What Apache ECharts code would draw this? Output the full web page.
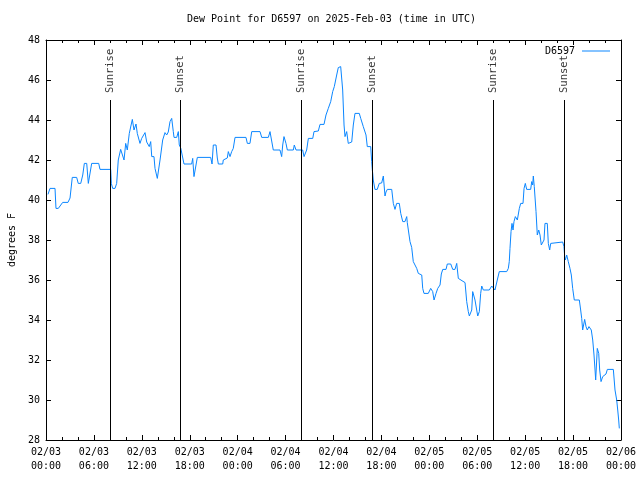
<!DOCTYPE html>
<html>
<head>
<meta charset="utf-8">
<script src="https://cdn.jsdelivr.net/npm/echarts@6/dist/echarts.min.js"></script>
<style>html,body{margin:0;padding:0;background:#fff}#c{width:640px;height:480px}</style>
</head>
<body>
<div id="c"></div>
<script>
// Hours since 2025-02-03 00:00 UTC
const hours = [0.25,0.50,1.13,1.25,1.54,2.09,2.75,3.01,3.29,3.84,4.04,4.35,4.60,4.80,5.10,5.30,5.51,5.72,6.60,6.76,8.10,8.18,8.35,8.64,8.85,9.05,9.35,9.60,9.77,9.98,10.18,10.43,10.61,10.81,11.02,11.27,11.43,11.77,11.98,12.40,12.61,12.93,13.11,13.24,13.52,13.65,13.94,14.06,14.28,14.61,14.90,15.11,15.31,15.53,15.74,15.94,16.03,16.37,16.57,16.69,16.87,17.12,17.28,18.24,18.37,18.53,18.78,18.95,20.62,20.79,20.95,21.29,21.45,21.58,22.13,22.20,22.41,22.70,22.83,23.04,23.25,23.45,23.67,25.04,25.21,25.54,25.76,26.80,27.01,27.84,28.05,28.26,28.46,29.30,29.51,29.64,29.80,30.05,30.22,30.97,31.09,31.31,32.14,32.31,32.64,32.85,33.40,33.56,34.10,34.31,34.81,35.06,35.35,35.65,35.90,36.10,36.40,36.60,36.90,37.15,37.32,37.44,37.65,37.85,38.07,38.28,38.48,38.69,39.23,39.41,39.73,40.07,40.23,40.48,40.66,40.78,40.86,40.91,40.98,41.19,41.48,41.73,42.03,42.24,42.45,42.57,42.74,43.29,43.49,43.70,43.91,44.24,44.42,44.67,44.95,45.17,45.24,45.42,45.58,45.79,45.99,46.21,46.42,46.62,47.05,47.17,47.33,47.87,48.17,48.30,48.42,48.59,48.84,49.05,49.34,49.50,49.68,50.09,50.25,50.68,50.93,51.21,51.43,51.63,52.47,52.68,52.88,53.01,53.31,53.43,53.60,53.72,53.93,54.06,54.26,54.43,54.56,54.76,55.51,55.81,56.01,56.22,56.44,56.51,56.76,57.69,57.89,58.01,58.10,58.23,58.35,58.48,58.60,58.77,59.02,59.27,59.44,59.73,59.86,60.02,60.19,60.69,60.82,60.94,61.02,61.14,61.36,61.52,61.70,61.86,62.02,62.27,62.36,62.48,62.77,62.90,63.07,63.20,63.32,64.70,64.86,64.95,65.03,65.20,65.40,65.61,65.78,65.95,66.15,66.78,66.95,67.08,67.20,67.28,67.45,67.62,67.78,67.99,68.12,68.28,68.46,68.62,68.75,68.83,69.03,69.21,69.33,69.50,69.71,69.91,70.12,70.29,71.04,71.25,71.46,71.59,71.71,71.79];
const dewF = [40.28,40.58,40.58,39.58,39.58,39.88,39.88,40.1,41.13,41.13,40.83,40.83,41.25,41.83,41.83,40.83,40.83,41.83,41.83,41.53,41.53,40.83,40.58,40.58,40.83,42.0,42.53,42.53,42.0,42.83,42.5,43.33,43.33,44.03,43.5,43.8,43.33,42.83,43.08,43.37,42.9,42.67,42.92,42.17,42.17,41.58,41.08,41.03,42.0,43.0,43.37,43.25,43.4,43.92,44.08,43.42,43.13,43.13,43.42,42.75,42.6,42.6,41.8,41.8,42.08,41.17,41.17,42.13,42.13,41.8,42.75,42.75,42.1,41.8,41.8,42.0,42.1,42.1,42.42,42.17,42.42,42.58,43.13,43.13,42.83,42.83,43.42,43.42,43.13,43.13,43.42,43.42,42.5,42.5,42.17,42.75,43.17,42.83,42.5,42.5,42.75,42.5,42.5,42.17,42.5,43.08,43.08,43.42,43.45,43.78,43.78,44.25,44.58,44.92,45.42,45.67,46.25,46.62,46.67,45.5,43.75,43.17,43.42,42.83,42.75,42.9,43.75,44.33,44.33,44.08,43.67,43.25,42.67,42.6,42.67,41.92,41.5,41.33,41.0,40.53,40.53,40.83,40.85,41.2,40.2,40.4,40.53,40.53,39.83,39.53,39.83,39.83,39.33,38.92,38.92,39.17,38.87,38.83,37.92,37.63,36.92,36.87,36.58,36.33,36.25,35.58,35.33,35.33,35.58,35.65,35.42,35.0,35.33,35.58,35.75,36.3,36.53,36.53,36.8,36.8,36.53,36.53,36.83,36.08,35.87,34.92,34.42,34.2,34.5,35.42,35.33,35.0,34.5,34.2,34.42,35.33,35.7,35.5,35.5,35.7,35.6,35.5,35.5,36.0,36.42,36.42,36.58,36.92,37.58,38.42,38.83,38.5,38.92,39.17,39.0,39.58,39.83,39.83,40.58,40.83,40.53,40.53,40.92,40.75,41.2,40.67,39.42,38.25,38.5,38.25,37.75,37.75,38.0,38.83,38.83,37.83,37.5,37.83,37.83,37.9,37.67,37.17,37.0,37.25,36.92,36.58,36.25,35.58,35.0,35.0,34.5,34.08,33.5,33.5,34.03,33.67,33.5,33.67,33.67,33.5,33.0,32.25,31.5,31.0,32.58,32.33,31.5,30.92,31.17,31.25,31.3,31.53,31.53,30.5,30.0,29.5,29.0,28.58];
const sunTimes = ["2025-02-03T08:03:00Z","2025-02-03T16:52:00Z","2025-02-04T08:01:00Z","2025-02-04T16:52:00Z","2025-02-05T08:00:00Z","2025-02-05T16:54:00Z"];
const sunLabels = ["Sunrise","Sunset","Sunrise","Sunset","Sunrise","Sunset"];
const yTicks = {min: 28, max: 48, step: 2};
const seriesName = "D6597";
const titleText = "Dew Point for D6597 on 2025-Feb-03 (time in UTC)";

const H = 3600000;
const T0 = Date.UTC(2025, 1, 3);
const T1 = T0 + 72 * H;
const lineData = hours.map((h, i) => [T0 + h * H, dewF[i]]);
const sunMs = sunTimes.map(s => Date.parse(s));
const FONT = "DejaVu Sans Mono";
const COLOR = "#0a86ff";
const pad = n => (n < 10 ? "0" : "") + n;
const fmt = v => { const d = new Date(v); return pad(d.getUTCMonth() + 1) + "/" + pad(d.getUTCDate()) + "\n" + pad(d.getUTCHours()) + ":" + pad(d.getUTCMinutes()); };

const axisCommon = {
  axisLine: {show: true, onZero: false, lineStyle: {color: "#000", width: 1}},
  splitLine: {show: false},
};
const chart = echarts.init(document.getElementById("c"), null, {renderer: "canvas"});
chart.setOption({
  animation: false,
  backgroundColor: "#fff",
  title: {text: titleText, left: 187, top: 14, padding: 0,
    textStyle: {fontFamily: FONT, fontSize: 10, fontWeight: "normal", color: "#000"}},
  legend: {data: [{name: seriesName, icon: "rect", itemStyle: {color: COLOR}}], right: 30, top: 46, align: "right",
    itemWidth: 28, itemHeight: 1, padding: 0, itemGap: 5,
    textStyle: {fontFamily: FONT, fontSize: 10, color: "#000", padding: [0, 2, 0, 0]}},
  grid: {left: 46, right: 19, top: 40, bottom: 40, containLabel: false, outerBoundsMode: "none"},
  xAxis: [
    Object.assign({type: "value", min: T0, max: T1, interval: 6 * H, position: "bottom",
      axisTick: {show: true, inside: true, length: 5, lineStyle: {color: "#000"}},
      minorTick: {show: true, splitNumber: 3, length: 3, lineStyle: {color: "#000"}},
      axisLabel: {formatter: fmt, fontFamily: FONT, fontSize: 10, color: "#000", lineHeight: 14, margin: 5}}, axisCommon),
    Object.assign({type: "value", min: T0, max: T1, interval: 6 * H, position: "top",
      axisTick: {show: true, inside: true, length: 5, lineStyle: {color: "#000"}},
      minorTick: {show: true, splitNumber: 3, length: 3, lineStyle: {color: "#000"}},
      axisLabel: {show: false}}, axisCommon)
  ],
  yAxis: [
    Object.assign({type: "value", min: yTicks.min, max: yTicks.max, interval: yTicks.step, position: "left",
      name: "degrees F", nameLocation: "middle", nameRotate: 90, nameGap: 29,
      nameTextStyle: {fontFamily: FONT, fontSize: 10, color: "#000"},
      axisTick: {show: true, inside: true, length: 5, lineStyle: {color: "#000"}},
      axisLabel: {fontFamily: FONT, fontSize: 10, color: "#000", margin: 6}}, axisCommon),
    Object.assign({type: "value", min: yTicks.min, max: yTicks.max, interval: yTicks.step, position: "right",
      axisTick: {show: true, inside: true, length: 5, lineStyle: {color: "#000"}},
      axisLabel: {show: false}}, axisCommon)
  ],
  series: [
    {name: seriesName, type: "line", data: lineData, symbol: "none", showSymbol: false,
      lineStyle: {color: COLOR, width: 1}, itemStyle: {color: COLOR},
      xAxisIndex: 0, yAxisIndex: 0, z: 3,
      markLine: {silent: true, symbol: ["none", "none"], animation: false,
        lineStyle: {color: "#000", type: "solid", width: 1}, label: {show: false},
        data: sunMs.map(t => [{coord: [t, yTicks.min]}, {coord: [t, 45]}])}},
    {name: "sunLabels", type: "scatter", symbolSize: 0, xAxisIndex: 0, yAxisIndex: 0, silent: true,
      data: sunMs.map((t, i) => ({value: [t, 45], name: sunLabels[i]})),
      label: {show: true, formatter: "{b}", position: "top", distance: 7, rotate: 90, align: "left", verticalAlign: "middle",
        fontFamily: FONT, fontSize: 10.5, color: "#000"}}
  ]
});
</script>
</body>
</html>
